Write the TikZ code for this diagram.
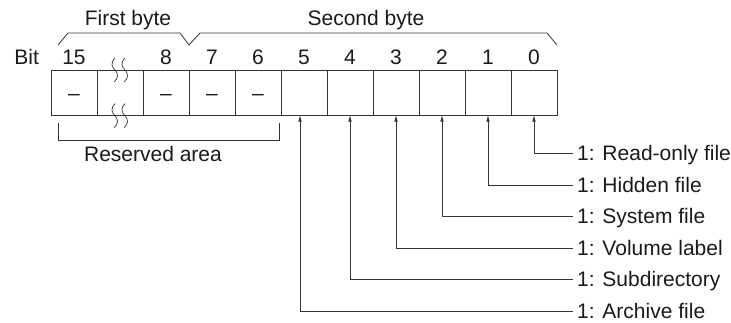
\documentclass[tikz,border=0pt]{standalone}
\usepackage{fontspec}
\setmainfont{Liberation Sans}
\usetikzlibrary{arrows.meta,positioning}
\definecolor{Ink}{HTML}{1A1A1A}
\definecolor{Wire}{HTML}{333333}

\begin{document}
\begin{tikzpicture}[
  x=1pt, y=-1pt,
  node distance=0pt,
  every node/.style={font=\fontsize{21}{25}\selectfont, text=Ink},
  cell/.style={
    draw=Wire,
    line width=0.8pt,
    minimum width=46pt,
    minimum height=45.7pt,
    inner sep=0pt,
    outer sep=0pt,
    text height=14.5pt,
    text depth=0pt
  },
  bitnum/.style={inner sep=0pt, text height=15pt, text depth=0pt},
  flag/.style={anchor=west, inner sep=0pt, text height=15pt, text depth=0pt},
  wire/.style={draw=Wire, line width=0.8pt},
  arrow/.style={wire, -{Triangle[length=6pt,width=3.2pt]}},
  brk/.style={draw=Wire, line width=0.7pt}
]
\useasboundingbox (0,0) rectangle (731,323);

% register cells
\node[cell] (bit15) at (74,92.85) {--};
\node[cell,right=of bit15] (bitx) {};
\node[cell,right=of bitx] (bit8) {--};
\node[cell,right=of bit8] (bit7) {--};
\node[cell,right=of bit7] (bit6) {--};
\node[cell,right=of bit6] (bit5) {};
\node[cell,right=of bit5] (bit4) {};
\node[cell,right=of bit4] (bit3) {};
\node[cell,right=of bit3] (bit2) {};
\node[cell,right=of bit2] (bit1) {};
\node[cell,right=of bit1] (bit0) {};

% break marks
\draw[brk] (115,58) .. controls (110,63) and (112,67) .. (115,70) .. controls (118,73) and (119,78) .. (114,82);
\draw[brk] (125,58) .. controls (120,63) and (122,67) .. (125,70) .. controls (128,73) and (129,78) .. (124,82);
\draw[brk] (115,103.7) .. controls (110,108.7) and (112,112.7) .. (115,115.7) .. controls (118,118.7) and (119,123.7) .. (114,127.7);
\draw[brk] (125,103.7) .. controls (120,108.7) and (122,112.7) .. (125,115.7) .. controls (128,118.7) and (129,123.7) .. (124,127.7);

% bit numbers
\node[bitnum,above=5pt of bit15] (n15) {15};
\node[bitnum,above=5pt of bit8] (n8) {8};
\node[bitnum,above=5pt of bit7] (n7) {7};
\node[bitnum,above=5pt of bit6] (n6) {6};
\node[bitnum,above=5pt of bit5] (n5) {5};
\node[bitnum,above=5pt of bit4] (n4) {4};
\node[bitnum,above=5pt of bit3] (n3) {3};
\node[bitnum,above=5pt of bit2] (n2) {2};
\node[bitnum,above=5pt of bit1] (n1) {1};
\node[bitnum,above=5pt of bit0] (n0) {0};
\node[bitnum,left=23pt of n15] (bitlbl) {Bit};

% byte brackets
\draw[wire] (58,45) -- (68,33) -- (180,33) -- (189,45) -- (200,33) -- (547,33) -- (557,45);
\node[bitnum] (first) at (128,18) {First byte};
\node[bitnum] (second) at (366,18) {Second byte};

% reserved area
\draw[wire] (58.7,123) -- (58.7,140) -- (279,140) -- (279,123);
\node[bitnum] (reserved) at (153,154) {Reserved area};

% flags
\node[flag] (f0) at (577,153.5) {1: Read-only file};
\node[flag] (f1) at (577,185) {1: Hidden file};
\node[flag] (f2) at (577,216.5) {1: System file};
\node[flag] (f3) at (577,248) {1: Volume label};
\node[flag] (f4) at (577,279.5) {1: Subdirectory};
\node[flag] (f5) at (577,311) {1: Archive file};

\draw[arrow] ([xshift=-4pt]f0.west) -| (bit0.south);
\draw[arrow] ([xshift=-4pt]f1.west) -| (bit1.south);
\draw[arrow] ([xshift=-4pt]f2.west) -| (bit2.south);
\draw[arrow] ([xshift=-4pt]f3.west) -| (bit3.south);
\draw[arrow] ([xshift=-4pt]f4.west) -| (bit4.south);
\draw[arrow] ([xshift=-4pt]f5.west) -| ([xshift=-4pt]bit5.south);
\end{tikzpicture}
\end{document}
